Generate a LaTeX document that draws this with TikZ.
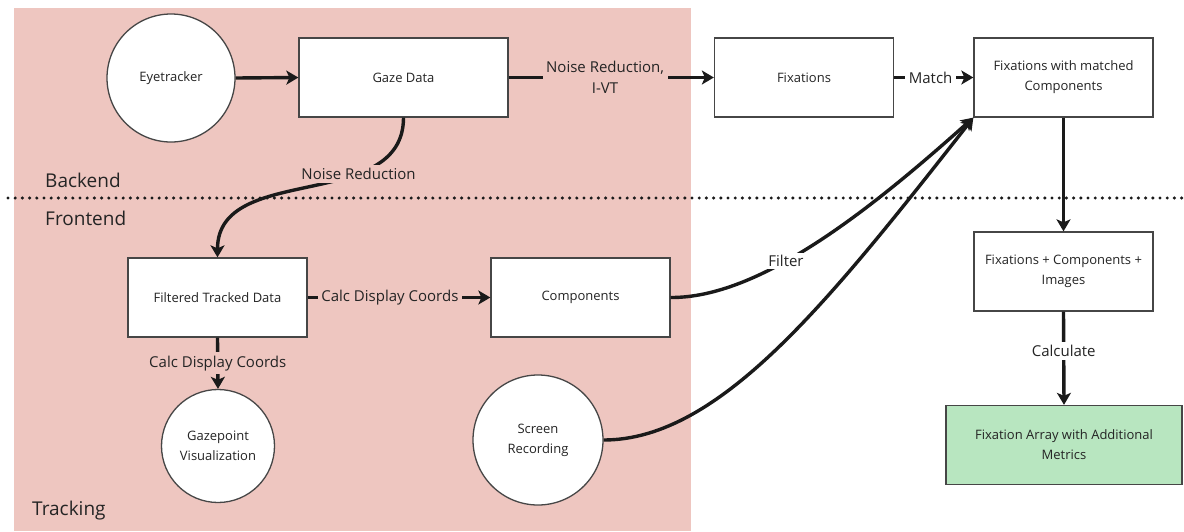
\documentclass[tikz,border=0pt]{standalone}
\usepackage{fontspec}
\setmainfont{Open Sans}
\usetikzlibrary{arrows.meta}
\definecolor{pinkbg}{RGB}{238,198,192}
\definecolor{greenbg}{RGB}{184,230,192}
\definecolor{boxline}{RGB}{70,70,70}
\definecolor{lc}{RGB}{26,26,26}
\definecolor{txt}{RGB}{36,36,36}
\newcommand\bxfont{\fontsize{13}{20}\selectfont}
\newcommand\lbfont{\fontsize{15}{21}\selectfont}
\newcommand\secfont{\fontsize{19}{23}\selectfont}
\tikzset{
  box/.style={draw=boxline, line width=1.3pt, fill=white, minimum width=179pt, minimum height=79pt, align=center, font=\bxfont, text=txt, inner sep=2pt},
  circ/.style={circle, draw=boxline, line width=1.3pt, fill=white, align=center, font=\bxfont, text=txt, inner sep=0pt},
  conn/.style={draw=lc, line width=3.4pt, -{Stealth[length=12pt,width=14pt,inset=3pt]}},
  lbl/.style={font=\lbfont, text=txt, fill=pinkbg, inner sep=3.5pt, align=center},
  lblw/.style={lbl, fill=white},
  sec/.style={font=\secfont, text=txt, anchor=west, inner sep=0pt},
}
\begin{document}
\begin{tikzpicture}[x=1pt,y=-1pt]
\useasboundingbox (0,0) rectangle (1184,531);
\fill[white] (0,0) rectangle (1184,531);
\fill[pinkbg] (14,8) rectangle (691,531);
\draw[lc, line width=3.4pt, line cap=round, dash pattern=on 0pt off 7.2pt] (8,198) -- (1184,198);

\node[sec] (backend) at (45,180) {Backend};
\node[sec] (frontend) at (45,218) {Frontend};
\node[sec] (tracking) at (32,511) {Tracking};

\node[circ, minimum size=128pt] (eye) at (171,78) {Eyetracker};
\node[box, minimum width=209pt] (gaze) at (403.5,77.5) {Gaze Data};
\node[box] (fix) at (804,77.5) {Fixations};
\node[box] (fwm) at (1063.5,77.5) {Fixations with matched\\Components};
\node[box] (fci) at (1063.5,271.5) {Fixations + Components +\\Images};
\node[box, fill=greenbg, minimum width=236pt] (green) at (1064,445) {Fixation Array with Additional\\Metrics};
\node[box] (filt) at (217.5,297.5) {Filtered Tracked Data};
\node[box] (comp) at (580.5,297.5) {Components};
\node[circ, minimum size=113pt] (gp) at (218,446) {Gazepoint\\Visualization};
\node[circ, minimum size=130pt] (sr) at (538,440) {Screen\\Recording};

\draw[conn] (eye.east) -- (gaze.west);
\draw[conn] (gaze.east) -- node[lbl, pos=0.47] {Noise Reduction,\\I-VT} (fix.west);
\draw[conn] (fix.east) -- node[lblw, pos=0.46] {Match} (fwm.west);
\draw[conn] (fwm.south) -- (fci.north);
\draw[conn] (fci.south) -- node[lblw, pos=0.42] {Calculate} (green.north);
\draw[conn] (gaze.south) to[out=-90, in=90, looseness=1.05] node[lbl, pos=0.32] {Noise Reduction} (filt.north);
\draw[conn] (filt.east) -- node[lbl, pos=0.45] {Calc Display Coords} (comp.west);
\draw[conn] (filt.south) -- node[lbl, pos=0.5] {Calc Display Coords} (gp.north);
\draw[conn] (comp.east) .. controls (760,298) and (870,210) .. node[lblw, pos=0.4, inner sep=2pt] {Filter} (fwm.south west);
\draw[conn] (sr.east) .. controls (720,440) and (830,300) .. (fwm.south west);
\end{tikzpicture}
\end{document}
